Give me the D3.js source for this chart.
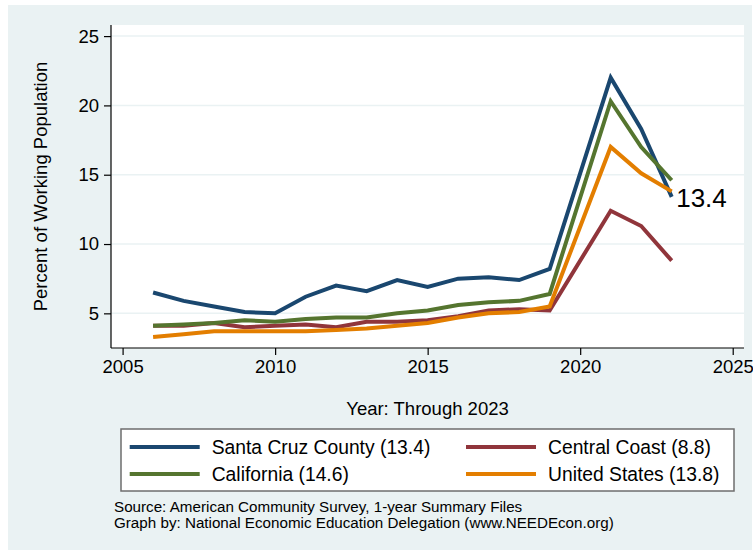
<!DOCTYPE html>
<html>
<head>
<meta charset="utf-8">
<script src="https://cdn.jsdelivr.net/npm/d3@7"></script>
<style>
  html, body { margin: 0; padding: 0; background: #ffffff; }
  svg text { font-family: "Liberation Sans", Helvetica, Arial, sans-serif; fill: #000; }
</style>
</head>
<body>
<svg id="chart" width="753" height="550"></svg>
<script>
// Share of the working population that works from home (ACS 1-year; no 2020 release)
const years = [2006, 2007, 2008, 2009, 2010, 2011, 2012, 2013, 2014, 2015, 2016, 2017, 2018, 2019, 2021, 2022, 2023];
const santaCruz    = [6.5, 5.9, 5.5, 5.1, 5.0, 6.2, 7.0, 6.6, 7.4, 6.9, 7.5, 7.6, 7.4, 8.2, 22.0, 18.3, 13.4];
const centralCoast = [4.1, 4.1, 4.3, 4.0, 4.1, 4.2, 4.0, 4.4, 4.4, 4.5, 4.8, 5.2, 5.3, 5.2, 12.4, 11.3, 8.8];
const california   = [4.1, 4.2, 4.3, 4.5, 4.4, 4.6, 4.7, 4.7, 5.0, 5.2, 5.6, 5.8, 5.9, 6.4, 20.3, 17.0, 14.6];
const unitedStates = [3.3, 3.5, 3.7, 3.7, 3.7, 3.7, 3.8, 3.9, 4.1, 4.3, 4.7, 5.0, 5.1, 5.5, 17.0, 15.1, 13.8];

const seriesNames  = ["Santa Cruz County", "Central Coast", "California", "United States"];
const seriesColors = ["#1a476f", "#90353b", "#55752f", "#e37e00"];
const seriesValues = [santaCruz, centralCoast, california, unitedStates];

const xTicks = [2005, 2010, 2015, 2020, 2025];
const yTicks = [5, 10, 15, 20, 25];

const xTitle = "Year: Through 2023";
const yTitle = "Percent of Working Population";
const notes = [
  "Source: American Community Survey, 1-year Summary Files",
  "Graph by: National Economic Education Delegation (www.NEEDEcon.org)"
];

const svg = d3.select("#chart");
const bg = "#eaf2f3";

// Graph background
svg.append("rect").attr("x", 8).attr("y", 5).attr("width", 744).attr("height", 545).attr("fill", bg);

// Plot region
const plot = { left: 111, right: 744, top: 25, bottom: 348 };
svg.append("rect")
  .attr("x", plot.left).attr("y", plot.top)
  .attr("width", plot.right - plot.left).attr("height", plot.bottom - plot.top)
  .attr("fill", "#ffffff");

const x = d3.scaleLinear().domain([2004.62, 2025.37]).range([plot.left, plot.right]);
const y = d3.scaleLinear().domain([2.5, 25.8]).range([plot.bottom, plot.top]);

// Horizontal grid
svg.append("g")
  .selectAll("line")
  .data(yTicks)
  .join("line")
  .attr("x1", plot.left).attr("x2", plot.right)
  .attr("y1", d => y(d)).attr("y2", d => y(d))
  .attr("stroke", bg).attr("stroke-width", 1.5);

// Axes
const xAxis = svg.append("g")
  .attr("transform", `translate(0,${plot.bottom})`)
  .call(d3.axisBottom(x).tickValues(xTicks).tickFormat(d3.format("d")).tickSize(7).tickPadding(5).tickSizeOuter(0));
const yAxis = svg.append("g")
  .attr("transform", `translate(${plot.left},0)`)
  .call(d3.axisLeft(y).tickValues(yTicks).tickSize(7).tickPadding(5).tickSizeOuter(0));

[xAxis, yAxis].forEach(g => {
  g.select(".domain").attr("stroke", "#000").attr("stroke-width", 1.2);
  g.selectAll(".tick line").attr("stroke", "#000").attr("stroke-width", 1.2);
  g.selectAll(".tick text").attr("font-size", 18.5).attr("fill", "#000")
    .style("font-family", '"Liberation Sans", Helvetica, Arial, sans-serif');
});
// The axis lines span the whole plot region
xAxis.select(".domain").attr("d", `M${plot.left},0H${plot.right}`);
yAxis.select(".domain").attr("d", `M0,${plot.top}V${plot.bottom}`);

// Series lines
const line = d3.line()
  .x((d, i) => x(years[i]))
  .y(d => y(d));

svg.append("g")
  .selectAll("path")
  .data(seriesValues)
  .join("path")
  .attr("d", d => line(d))
  .attr("fill", "none")
  .attr("stroke", (d, i) => seriesColors[i])
  .attr("stroke-width", 4)
  .attr("stroke-linejoin", "miter")
  .attr("stroke-linecap", "butt");

// Label on the last Santa Cruz value
const lastIdx = years.length - 1;
svg.append("text")
  .attr("x", x(years[lastIdx]) + 4.5)
  .attr("y", y(santaCruz[lastIdx]) + 10.5)
  .attr("font-size", 26)
  .text(d3.format(".1f")(santaCruz[lastIdx]));

// Axis titles
svg.append("text")
  .attr("x", (plot.left + plot.right) / 2)
  .attr("y", 415)
  .attr("text-anchor", "middle")
  .attr("font-size", 18.5)
  .text(xTitle);

svg.append("text")
  .attr("transform", `translate(47,${(plot.top + plot.bottom) / 2}) rotate(-90)`)
  .attr("text-anchor", "middle")
  .attr("font-size", 18.5)
  .text(yTitle);

// Legend
const legend = { x: 121, y: 429, w: 613, h: 62 };
svg.append("rect")
  .attr("x", legend.x).attr("y", legend.y)
  .attr("width", legend.w).attr("height", legend.h)
  .attr("fill", "#ffffff").attr("stroke", "#6e6e6e").attr("stroke-width", 1.5);

const colX = [129.7, 466];
const rowY = [447, 474];
const legendItems = seriesNames.map((name, i) => ({
  name, color: seriesColors[i], last: seriesValues[i][lastIdx],
  col: i % 2, row: Math.floor(i / 2)
}));
const items = svg.append("g")
  .selectAll("g")
  .data(legendItems)
  .join("g")
  .attr("transform", d => `translate(${colX[d.col]},${rowY[d.row]})`);
items.append("line")
  .attr("x1", 0).attr("x2", 70)
  .attr("stroke", d => d.color).attr("stroke-width", 4);
items.append("text")
  .attr("x", 82).attr("y", 7)
  .attr("font-size", 19.3)
  .text(d => `${d.name} (${d3.format(".1f")(d.last)})`);

// Notes
svg.append("g")
  .selectAll("text")
  .data(notes)
  .join("text")
  .attr("x", 114)
  .attr("y", (d, i) => 512 + i * 16)
  .attr("font-size", 15.2)
  .text(d => d);
</script>
</body>
</html>
